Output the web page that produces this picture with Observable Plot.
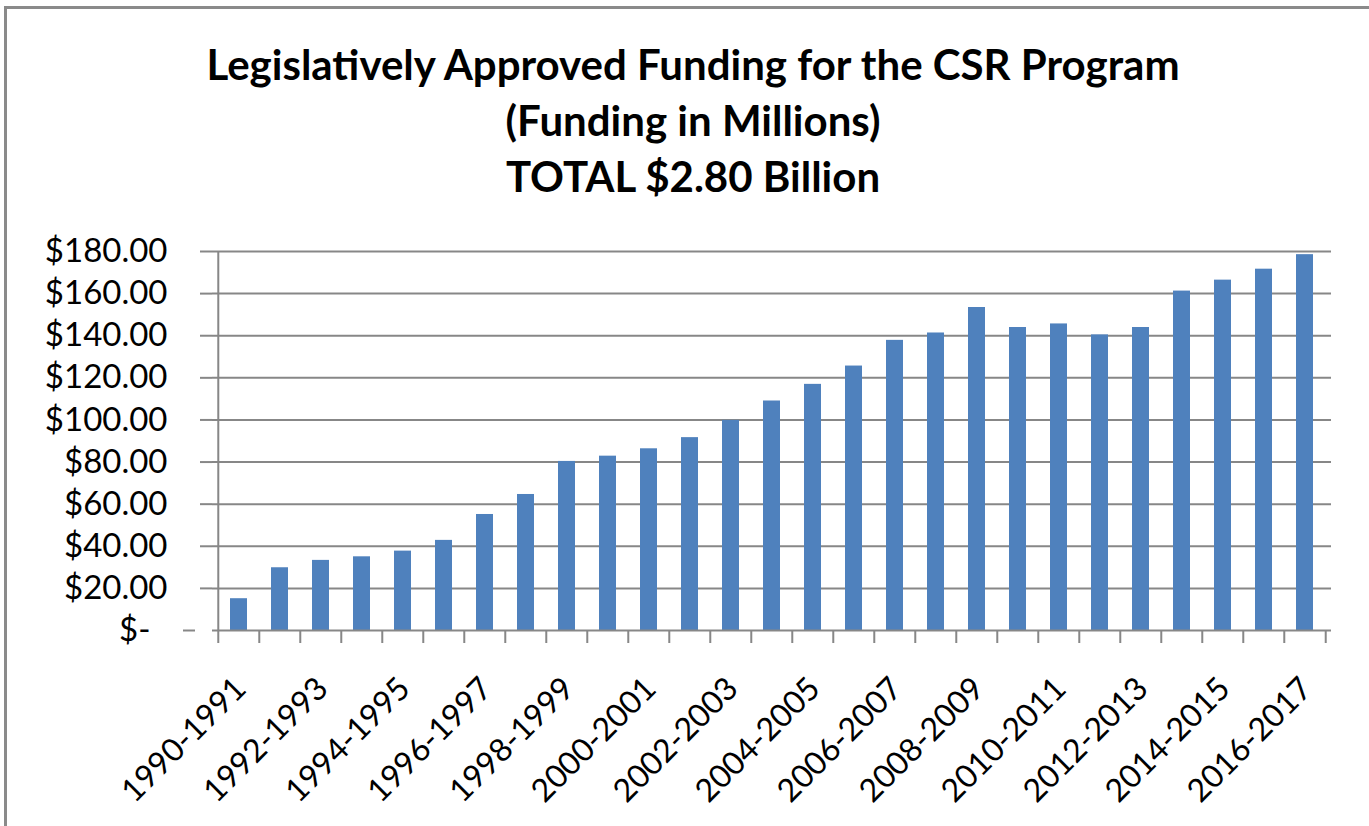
<!DOCTYPE html>
<html>
<head>
<meta charset="utf-8">
<script src="https://cdn.jsdelivr.net/npm/d3@7"></script>
<script src="https://cdn.jsdelivr.net/npm/@observablehq/plot@0.6"></script>
<style>
  html, body { margin: 0; padding: 0; background: #fff; overflow: hidden; width: 1369px; height: 826px; }
  #frame { position: absolute; left: 4px; top: 6px; width: 1420px; height: 900px; border: 3px solid #8a8a8a; box-sizing: border-box; z-index: 5; pointer-events: none; }
  #wrap { position: absolute; left: 0; top: 0; width: 1369px; }
  #title { height: 210px; box-sizing: border-box; padding-top: 36px; width: 1386px; text-align: center;
           font-family: Lato, "Open Sans", sans-serif; font-weight: bold; font-size: 42px; line-height: 56px; color: #000; }
  svg { display: block; }
</style>
</head>
<body>
<div id="wrap">
  <div id="title">
    <div>Legislatively Approved Funding for the CSR Program</div>
    <div>(Funding in Millions)</div>
    <div>TOTAL $2.80 Billion</div>
  </div>
  <div id="chart"></div>
</div>
<div id="frame"></div>
<script>
const categories = ["1990-1991","1991-1992","1992-1993","1993-1994","1994-1995","1995-1996","1996-1997","1997-1998","1998-1999","1999-2000","2000-2001","2001-2002","2002-2003","2003-2004","2004-2005","2005-2006","2006-2007","2007-2008","2008-2009","2009-2010","2010-2011","2011-2012","2012-2013","2013-2014","2014-2015","2015-2016","2016-2017"];
const funding = [15.1, 29.8, 33.3, 35.0, 37.7, 42.8, 55.1, 64.6, 80.3, 82.8, 86.3, 91.6, 99.8, 109.0, 116.9, 125.6, 137.8, 141.3, 153.4, 143.9, 145.6, 140.4, 143.9, 161.2, 166.4, 171.6, 178.5];
const yTicks = [20, 40, 60, 80, 100, 120, 140, 160, 180];
const labelCategories = categories.filter((d, i) => i % 2 === 0);

const data = categories.map((c, i) => ({period: c, value: funding[i]}));

const W = 1369, H = 616;
const mL = 212, mR = 38, mT = 41, mB = 196;
const step = (W - mL - mR) / categories.length;
const gray = "#878787";

const plot = Plot.plot({
  width: W, height: H,
  marginLeft: mL, marginRight: mR, marginTop: mT, marginBottom: mB,
  style: {fontFamily: "Lato, 'Open Sans', sans-serif", background: "transparent", color: "#000"},
  x: {domain: categories, paddingInner: 0.59, paddingOuter: 0.295, axis: null},
  y: {domain: [0, 180], axis: null},
  marks: [
    Plot.gridY(yTicks, {stroke: gray, strokeOpacity: 1, strokeWidth: 2}),
    Plot.barY(data, {x: "period", y: "value", fill: "#4F81BD"}),
    Plot.ruleY([0], {stroke: gray, strokeWidth: 2}),
    Plot.ruleX([categories[0]], {y1: 0, y2: 180, dx: -step / 2, stroke: gray, strokeWidth: 2}),
    Plot.axisX(categories, {tickSize: 13, tickFormat: () => "", label: null, dx: -step / 2, stroke: gray, strokeWidth: 2}),
    Plot.axisX([categories[categories.length - 1]], {tickSize: 13, tickFormat: () => "", label: null, dx: step / 2, stroke: gray, strokeWidth: 2}),
    Plot.axisY(yTicks, {tickSize: 12, tickPadding: 33, fontSize: 33, label: null, stroke: gray, strokeWidth: 2, fill: "#000",
      tickFormat: d => "$" + d.toFixed(2)}),
    Plot.axisY([0], {tickSize: 12, tickPadding: 33, fontSize: 33, label: null, stroke: gray, strokeWidth: 2, fill: "#000",
      tickFormat: () => "$-", dx: -17}),
    Plot.text(labelCategories, {x: d => d, frameAnchor: "bottom", rotate: -45, textAnchor: "end", lineAnchor: "bottom",
      dx: 9, dy: 60, fontSize: 32, fill: "#000"})
  ]
});
document.getElementById("chart").appendChild(plot);
</script>
</body>
</html>
